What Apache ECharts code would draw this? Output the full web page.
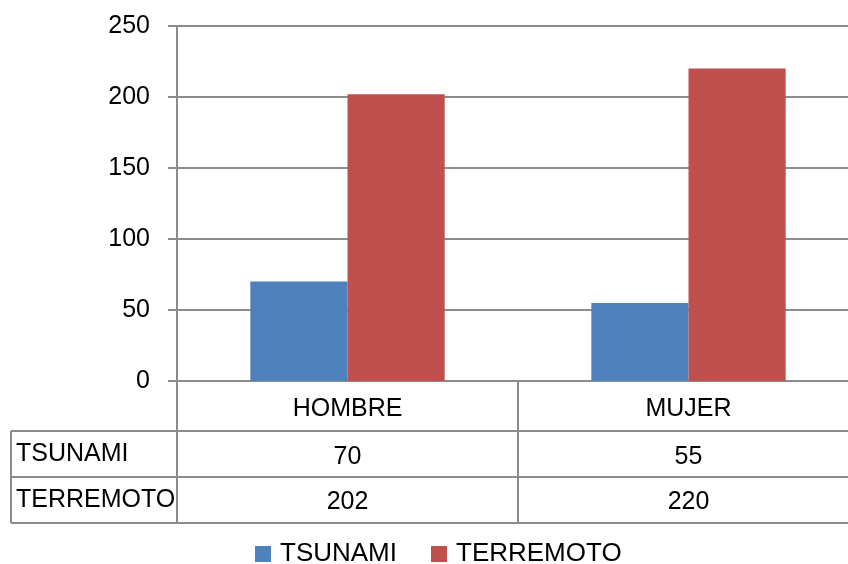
<!DOCTYPE html>
<html><head><meta charset="utf-8">
<script src="https://cdn.jsdelivr.net/npm/echarts@6/dist/echarts.min.js"></script>
<style>html,body{margin:0;padding:0;background:#fff}#c{width:848px;height:564px}</style>
</head><body><div id="c"></div>
<script>
const categories = ['HOMBRE', 'MUJER'];
const seriesNames = ['TSUNAMI', 'TERREMOTO'];
const tsunami = [70, 55];
const terremoto = [202, 220];
const yTicks = [0, 50, 100, 150, 200, 250];

const FONT = '"Liberation Sans",Arial,sans-serif';
const FS = 25;
const GRAY = '#8c8c8c';
const chart = echarts.init(document.getElementById('c'));
const gridLeft = 177, gridTop = 26, gridBottom = 183, W = 848;
const rowY = [431, 477, 523];

const rowAxis = (vals, margin) => ({
  type: 'category', data: vals.map(String), position: 'bottom', gridIndex: 0,
  axisLine: {show: false}, axisTick: {show: false}, splitLine: {show: false},
  axisLabel: {margin: margin, fontFamily: FONT, fontSize: FS, color: '#000'}
});

const graphics = [];
rowY.forEach(y => graphics.push({type: 'line', shape: {x1: 11, y1: y, x2: W, y2: y}, style: {stroke: GRAY, lineWidth: 2}}));
graphics.push({type: 'line', shape: {x1: 11, y1: rowY[0], x2: 11, y2: rowY[2]}, style: {stroke: GRAY, lineWidth: 2}});
seriesNames.forEach((n, i) => graphics.push({
  type: 'text', left: 16, top: (rowY[i] + rowY[i + 1]) / 2 - 12,
  style: {text: n, font: FS + 'px ' + FONT, fill: '#000'}
}));

chart.setOption({
  animation: false,
  color: ['#4f81bd', '#c0504d'],
  grid: {left: gridLeft, width: 682, top: gridTop, bottom: gridBottom, containLabel: false, outerBoundsMode: 'none'},
  legend: {
    top: 536, left: 250, itemWidth: 16, itemHeight: 16, itemGap: 34, icon: 'rect',
    textStyle: {fontFamily: FONT, fontSize: 26, color: '#000', padding: [0, 0, 0, 4]}, data: seriesNames
  },
  xAxis: [
    {
      type: 'category', data: categories, position: 'bottom',
      axisLine: {lineStyle: {color: GRAY, width: 2}},
      axisTick: {show: true, interval: 0, length: 142, lineStyle: {color: GRAY, width: 2}},
      axisLabel: {margin: 16, fontFamily: FONT, fontSize: FS, color: '#000'}
    },
    rowAxis(tsunami, 64),
    rowAxis(terremoto, 109)
  ],
  yAxis: {
    type: 'value', min: yTicks[0], max: yTicks[yTicks.length - 1], interval: 50,
    axisLine: {show: true, lineStyle: {color: GRAY, width: 2}},
    axisTick: {show: true, length: 9, lineStyle: {color: GRAY, width: 2}},
    splitLine: {lineStyle: {color: GRAY, width: 2}},
    axisLabel: {margin: 27, fontFamily: FONT, fontSize: FS, color: '#000'}
  },
  series: [
    {name: seriesNames[0], type: 'bar', data: tsunami, barGap: '0%', barCategoryGap: '43%'},
    {name: seriesNames[1], type: 'bar', data: terremoto, barGap: '0%', barCategoryGap: '43%'}
  ],
  graphic: graphics
});
</script></body></html>
